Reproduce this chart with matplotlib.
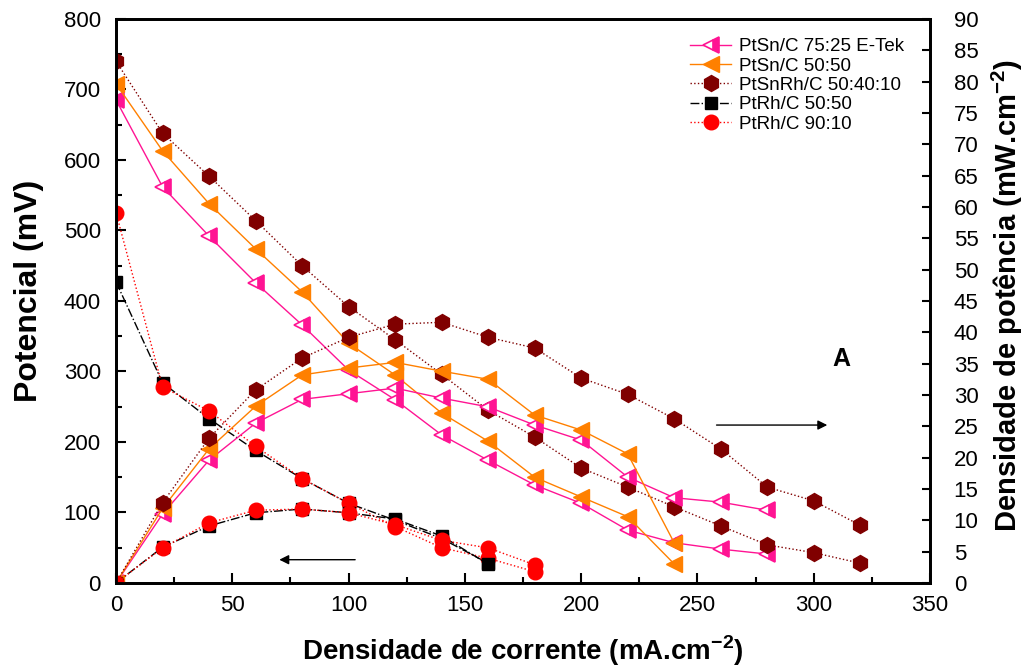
import matplotlib
matplotlib.use("Agg")
import matplotlib.pyplot as plt
import numpy as np

plt.rcParams['font.family'] = ['Liberation Sans', 'DejaVu Sans']
plt.rcParams['mathtext.fontset'] = 'custom'
plt.rcParams['mathtext.rm'] = 'Liberation Sans'
plt.rcParams['mathtext.bf'] = 'Liberation Sans:bold'

# dados lidos do grafico
# corrente (mA/cm2)
x_etek = [0, 20, 40, 60, 80, 100, 120, 140, 160, 180, 200, 220, 240, 260, 280]
x_sn = [0, 20, 40, 60, 80, 100, 120, 140, 160, 180, 200, 220, 240]
x_snrh = [0, 20, 40, 60, 80, 100, 120, 140, 160, 180, 200, 220, 240, 260, 280, 300, 320]
x_rh55 = [0, 20, 40, 60, 80, 100, 120, 140, 160]
x_rh91 = [0, 20, 40, 60, 80, 100, 120, 140, 160, 180]

# potencial (mV)
v_etek = [685, 562, 492, 426, 366, 302, 260, 210, 174, 139, 113, 75, 57, 48, 41]
v_sn = [708, 613, 538, 474, 413, 340, 295, 241, 201, 150, 122, 94, 27]
v_snrh = [740, 638, 577, 514, 450, 392, 345, 296, 245, 207, 163, 136, 108, 81, 54, 43, 28]
v_rh55 = [427, 284, 233, 188, 148, 113, 89, 63, 28]
v_rh91 = [525, 278, 244, 194, 148, 113, 80, 50, 35, 16]

# densidade de potencia (mW/cm2)
p_etek = [0, 11.0, 19.6, 25.5, 29.3, 30.2, 31.1, 29.5, 28.1, 25.2, 22.8, 16.9, 13.6, 12.9, 11.6]
p_sn = [0, 11.9, 21.4, 28.2, 33.2, 34.3, 35.2, 33.8, 32.5, 26.8, 24.4, 20.6, 6.4]
p_snrh = [0, 12.8, 23.1, 30.8, 35.9, 39.2, 41.3, 41.6, 39.2, 37.5, 32.7, 30.1, 26.2, 21.4, 15.3, 13.1, 9.2]
p_rh55 = [0, 5.7, 9.1, 11.2, 11.8, 11.2, 10.2, 7.5, 3.0]
p_rh91 = [0, 5.6, 9.6, 11.6, 11.8, 11.2, 9.3, 6.8, 5.6, 2.9]

labels = ['PtSn/C 75:25 E-Tek', 'PtSn/C 50:50', 'PtSnRh/C 50:40:10',
          'PtRh/C 50:50', 'PtRh/C 90:10']

pink = '#ff1493'
orange = '#ff8000'
maroon = '#800000'

fig = plt.figure(figsize=(10.27, 6.69), dpi=100)
ax = fig.add_axes([0.113, 0.1286, 0.7926, 0.843])
ax2 = ax.twinx()

st_etek = dict(color=pink, ls='-', lw=1, marker='<', ms=11, fillstyle='right',
               mfc=pink, mfcalt='white', mec=pink, mew=1.2)
st_sn = dict(color=orange, ls='-', lw=1, marker='<', ms=12, mfc=orange, mec=orange)
st_snrh = dict(color=maroon, ls=':', lw=1, marker='h', ms=11.5, mfc=maroon, mec=maroon)
st_rh55 = dict(color='black', ls='-.', lw=1, marker='s', ms=9, mfc='black', mec='black')
st_rh91 = dict(color='red', ls=':', lw=1, marker='o', ms=10.5, mfc='red', mec='red')

h1, = ax.plot(x_etek, v_etek, **st_etek)
h2, = ax.plot(x_sn, v_sn, **st_sn)
h3, = ax.plot(x_snrh, v_snrh, **st_snrh)
h4, = ax.plot(x_rh55, v_rh55, **st_rh55)
h5, = ax.plot(x_rh91, v_rh91, **st_rh91)

ax2.plot(x_etek, p_etek, **st_etek)
ax2.plot(x_sn, p_sn, **st_sn)
ax2.plot(x_snrh, p_snrh, **st_snrh)
ax2.plot(x_rh55, p_rh55, **st_rh55)
ax2.plot(x_rh91, p_rh91, **st_rh91)

ax.set_xlim(0, 350)
ax.set_ylim(0, 800)
ax2.set_ylim(0, 90)
ax.set_xticks(np.arange(0, 351, 50))
ax.set_xticks(np.arange(0, 351, 25), minor=True)
ax.set_yticks(np.arange(0, 801, 100))
ax.set_yticks(np.arange(0, 801, 50), minor=True)
ax2.set_yticks(np.arange(0, 91, 5))

for a in (ax, ax2):
    for s in a.spines.values():
        s.set_linewidth(2)
ax.tick_params(which='both', direction='in', labelsize=16, width=1.5)
ax.tick_params(which='major', length=7)
ax.tick_params(which='minor', length=4)
ax.tick_params(axis='x', pad=9)
ax.tick_params(axis='y', pad=11)
ax2.tick_params(which='both', direction='in', labelsize=16, width=1.5, length=6, pad=17)

ax.set_xlabel('Densidade de corrente (mA.cm$^{\\mathbf{-2}}$)', fontsize=20,
              fontweight='bold', labelpad=12)
ax.set_ylabel('Potencial (mV)', fontsize=23, fontweight='bold', labelpad=14)
ax2.set_ylabel('Densidade de potência (mW.cm$^{\\mathbf{-2}}$)', fontsize=21,
               fontweight='bold', labelpad=8)
ax.yaxis.label.set_y(0.518)
ax2.yaxis.label.set_y(0.51)

ax.text(312, 318, 'A', fontsize=18, fontweight='bold', ha='center', va='center')
ax.annotate('', xy=(307, 224), xytext=(257, 224),
            arrowprops=dict(arrowstyle='-|>', color='black', lw=1, mutation_scale=14))
ax.annotate('', xy=(69, 33), xytext=(104, 33),
            arrowprops=dict(arrowstyle='-|>', color='black', lw=1, mutation_scale=14))

leg = ax.legend([h1, h2, h3, h4, h5], labels, loc='upper left',
                bbox_to_anchor=(0.705, 0.966), frameon=False, fontsize=13.5,
                handlelength=2.2, handletextpad=0.4, labelspacing=0.12,
                borderaxespad=0, borderpad=0)

fig.savefig('out.png', dpi=100)
